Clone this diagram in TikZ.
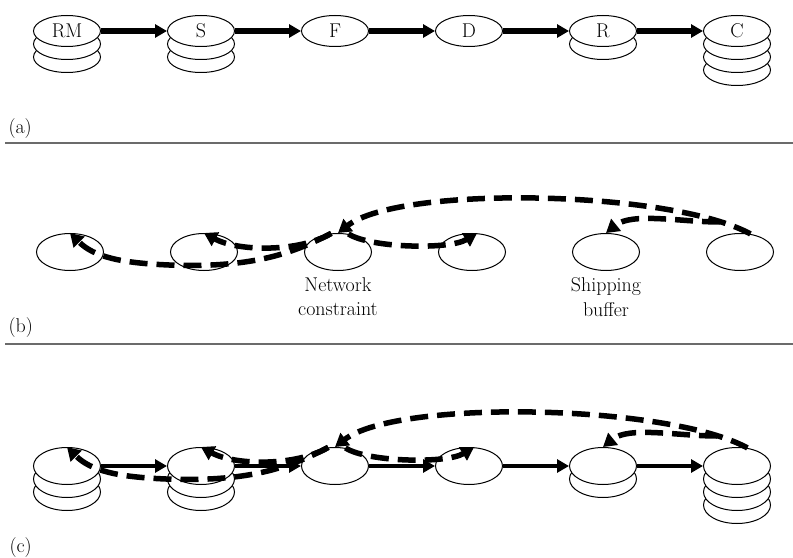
\documentclass[tikz,border=0pt]{standalone}
\usepackage{tikz}
\usetikzlibrary{arrows.meta,calc,positioning,shapes.geometric,backgrounds}

\tikzset{
  disk/.style={ellipse, draw, line width=1bp, fill=white, minimum width=67bp, minimum height=#1, inner sep=0pt},
  disk/.default=37bp,
  flow/.style={line width=4.5bp, -{Triangle[length=12bp,width=13bp]}},
  rope/.style={line width=5.5bp, dash pattern=on 18bp off 9bp, -{Triangle[length=13bp,width=15bp]}},
  note/.style={align=center, inner sep=0pt},
  divider/.style={line width=2bp, color=black!58},
}

% extra layers drawn under a stock node
\def\diskpile#1#2#3{%
  \begin{pgfonlayer}{background}
    \foreach \k in {#3,...,1}
      \node[disk=#2] (#1-\k) at ([yshift=-13bp*\k]#1.center) {};
  \end{pgfonlayer}}

% dashed signal lines between the six points of one row
\def\ropes#1{%
  \coordinate (#1fork) at ($(#16)+(-20,-30)$);
  \draw[rope] (#13.110) .. controls ($(#13)+(-48,3)$) and ($(#12)+(45,16)$) .. ($(#12)+(-35,13)$)
    .. controls ($(#11)+(51,11)$) and ($(#11)+(24,5)$) .. (#11.north);
  \draw[rope] (#13.110) .. controls ($(#13)+(-38,0)$) and ($(#12)+(35,0)$) .. (#12.north);
  \draw[rope] (#13.60) .. controls ($(#13)+(32,-4)$) and ($(#14)+(-23,-2)$) .. (#14.75);
  \draw[rope] (#16.60) .. controls ($(#16)+(-70,-62)$) and ($(#13)+(62,-67)$) .. (#13.north);
  \draw[rope] (#1fork) .. controls ($(#16)+(-60,-30)$) and ($(#15)+(26,-40)$) .. (#15.north);
}

\begin{document}
\begin{tikzpicture}[x=1bp, y=-1bp, font=\fontsize{20}{25}\selectfont]
  \useasboundingbox (0,0) rectangle (793,558);

  %%%%% (a) %%%%%
  \node[disk=31bp] (rm) at (67,31) {RM};
  \node[disk=31bp] (s) at (201,31) {S};
  \node[disk=31bp] (f) at (335,31) {F};
  \node[disk=31bp] (d) at (469,31) {D};
  \node[disk=31bp] (r) at (603,31) {R};
  \node[disk=31bp] (c) at (737,31) {C};
  \diskpile{rm}{31bp}{2}
  \diskpile{s}{31bp}{2}
  \diskpile{r}{31bp}{1}
  \diskpile{c}{31bp}{3}

  \draw[flow, line width=5.5bp] (rm) -- (s);
  \draw[flow, line width=5.5bp] (s) -- (f);
  \draw[flow, line width=5.5bp] (f) -- (d);
  \draw[flow, line width=5.5bp] (d) -- (r);
  \draw[flow, line width=5.5bp] (r) -- (c);

  \node[anchor=base west] (lbla) at (5,134) {(a)};
  \draw[divider] (5,143) -- (793,143);

  %%%%% (b) %%%%%
  \node[disk] (b1) at (70,252) {};
  \node[disk] (b2) at (204,252) {};
  \node[disk] (b3) at (338,252) {};
  \node[disk] (b4) at (472,252) {};
  \node[disk] (b5) at (606,252) {};
  \node[disk] (b6) at (740,252) {};

  \node[note, below=6bp of b3] (netlbl) {Network\\constraint};
  \node[note, below=6bp of b5] (buflbl) {Shipping\\buffer};

  \ropes{b}

  \node[anchor=base west] (lblb) at (5,332) {(b)};
  \draw[divider] (5,344) -- (793,344);

  %%%%% (c) %%%%%
  \node[disk] (c1) at (67,466) {};
  \node[disk] (c2) at (201,466) {};
  \node[disk] (c3) at (335,466) {};
  \node[disk] (c4) at (469,466) {};
  \node[disk] (c5) at (603,466) {};
  \node[disk] (c6) at (737,466) {};
  \diskpile{c1}{37bp}{2}
  \diskpile{c2}{37bp}{2}
  \diskpile{c5}{37bp}{1}
  \diskpile{c6}{37bp}{3}

  \draw[flow] (c1) -- (c2);
  \draw[flow] (c2) -- (c3);
  \draw[flow] (c3) -- (c4);
  \draw[flow] (c4) -- (c5);
  \draw[flow] (c5) -- (c6);

  \ropes{c}

  \node[anchor=base west] (lblc) at (6,552) {(c)};
\end{tikzpicture}
\end{document}
